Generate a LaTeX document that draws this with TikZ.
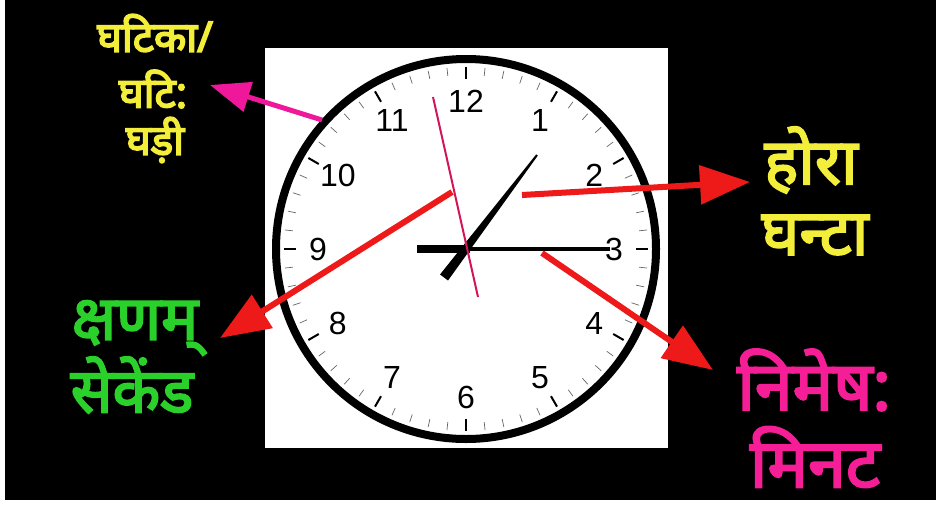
\documentclass[tikz,border=0pt]{standalone}
\usepackage{fontspec}
\setmainfont{Liberation Sans}
\newfontfamily\deva[Script=Devanagari,FakeBold=3]{Noto Sans}
\newfontfamily\devasm[Script=Devanagari,FakeBold=4]{Noto Sans}
\usetikzlibrary{arrows.meta}
\definecolor{hyellow}{HTML}{F2EE3A}
\definecolor{hgreen}{HTML}{2BD12B}
\definecolor{hpink}{HTML}{F51E96}
\definecolor{apink}{HTML}{F0189A}
\definecolor{ared}{HTML}{EE1A1A}
\definecolor{shand}{HTML}{D4145A}
\tikzset{
  num/.style={inner sep=0pt, font=\fontsize{32}{32}\selectfont, text=black},
  lbl/.style={inner sep=0pt, font=\devasm\bfseries\fontsize{42}{42}\selectfont, text=hyellow},
  lblyel/.style={inner sep=0pt, font=\deva\bfseries\fontsize{64}{64}\selectfont, text=hyellow},
  lblgrn/.style={inner sep=0pt, font=\deva\bfseries\fontsize{62}{62}\selectfont, text=hgreen},
  lblpnk/.style={inner sep=0pt, font=\deva\bfseries\fontsize{68}{68}\selectfont, text=hpink},
  redarrow/.style={draw=ared, line width=6pt, -{Triangle[length=50pt,width=38pt]}},
  pinkarrow/.style={draw=apink, line width=5pt, -{Triangle[length=40pt,width=30pt]}},
  minortick/.style={draw=black!60, line width=0.7pt},
  majortick/.style={draw=black, line width=2pt},
}
\begin{document}
\begin{tikzpicture}[x=1pt,y=-1pt]
\useasboundingbox (0,0) rectangle (936,506);
\fill[white] (0,0) rectangle (936,506);
\fill[black] (5,0) rectangle (936,500);
\fill[white] (265,48) rectangle (668,448);
\coordinate (c) at (466,249);
\draw[line width=8pt] (c) circle[radius=190pt];
\foreach \i in {0,...,59}{
  \draw[minortick] ([shift={(90-\i*6:174pt)}]c) -- ([shift={(90-\i*6:182pt)}]c);
}
\foreach \i in {0,...,11}{
  \draw[majortick] ([shift={(90-\i*30:170pt)}]c) -- ([shift={(90-\i*30:182pt)}]c);
}
\foreach \n in {1,...,12}{
  \node[num] (n\n) at ([shift={(90-\n*30:148pt)}]c) {\n};
}
% hands
\fill[black] (448,280.5) -- (440,274.5) -- (536.2,154.4) -- (537.8,155.6) -- cycle;
\fill[black] (417,244.5) rectangle (470,252.5);
\fill[black] (467,246.5) rectangle (610,250.5);
\draw[shand, line width=2pt] (433,97) -- (478,297);
% arrows
\coordinate (a1s) at (322,120); \coordinate (a1e) at (210,85);
\coordinate (a2s) at (522,195); \coordinate (a2e) at (750,182);
\coordinate (a3s) at (452,192); \coordinate (a3e) at (220,338);
\coordinate (a4s) at (542,253); \coordinate (a4e) at (713,370);
\draw[pinkarrow] (a1s) -- (a1e);
\draw[redarrow] (a2s) -- (a2e);
\draw[redarrow] (a3s) -- (a3e);
\draw[redarrow] (a4s) -- (a4e);
% labels
\node[lbl] (t1) at (155,33) {घटिका/};
\node[lbl] (t2) at (153,89) {घटि:};
\node[lbl] (t3) at (155,140) {घड़ी};
\node[lblyel] (t4) at (811,160) {होरा};
\node[lblyel] (t5) at (815,235) {घन्टा};
\node[lblgrn] (t6) at (135,328) {क्षणम्};
\node[lblgrn] (t7) at (132,385) {सेकेंड};
\node[lblpnk] (t8) at (814,380) {निमेष:};
\node[lblpnk] (t9) at (815,457) {मिनट};
\end{tikzpicture}
\end{document}
